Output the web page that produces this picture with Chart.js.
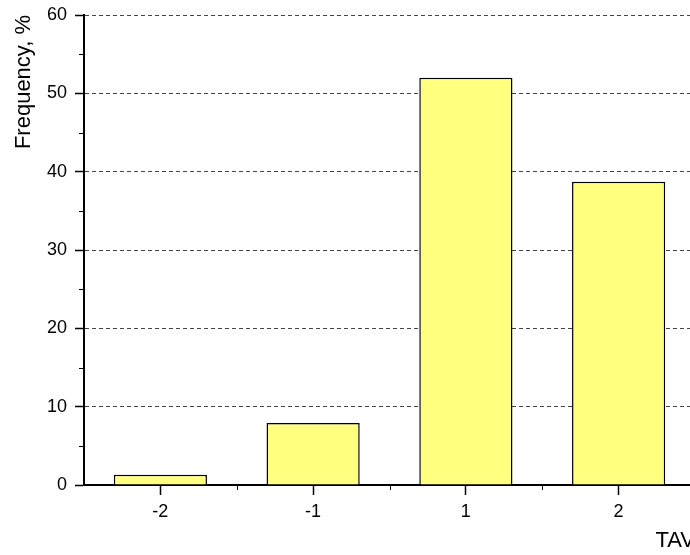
<!DOCTYPE html>
<html>
<head>
<meta charset="utf-8">
<script src="https://cdn.jsdelivr.net/npm/chart.js@4/dist/chart.umd.min.js"></script>
<style>
  html, body { margin: 0; padding: 0; background: #fff; }
  #wrap { width: 690px; height: 555px; overflow: hidden; position: relative; }
  canvas { display: block; }
</style>
</head>
<body>
<div id="wrap"><canvas id="c" width="720" height="555"></canvas></div>
<script>
// TAV classes and the share of cases in each
const categories = ['-2', '-1', '1', '2'];
const frequency = [1.3, 7.9, 52.0, 38.7];
const yTicks = [0, 10, 20, 30, 40, 50, 60];
const yMinorTicks = [5, 15, 25, 35, 45, 55];
const xMinorTicks = [0.5, 1.5, 2.5, 3.5];

const FONT = 'Liberation Sans, Arial, Helvetica, sans-serif';

// short minor tick marks on both axes
const minorTicks = {
  id: 'minorTicks',
  afterDraw(chart) {
    const { ctx, scales: { x, y } } = chart;
    ctx.save();
    ctx.strokeStyle = '#000';
    ctx.lineWidth = 1;
    ctx.beginPath();
    yMinorTicks.forEach(v => {
      const py = Math.round(y.getPixelForValue(v)) + 0.5;
      ctx.moveTo(y.right - 5, py);
      ctx.lineTo(y.right, py);
    });
    xMinorTicks.forEach(v => {
      const px = Math.round(x.getPixelForValue(v)) + 0.5;
      ctx.moveTo(px, x.top);
      ctx.lineTo(px, x.top + 5);
    });
    ctx.stroke();
    ctx.restore();
  }
};

new Chart(document.getElementById('c'), {
  type: 'bar',
  data: {
    labels: categories,
    datasets: [{
      data: frequency,
      backgroundColor: '#FFFF80',
      borderColor: '#000',
      borderWidth: 1.5,
      barPercentage: 0.61,
      categoryPercentage: 1.0
    }]
  },
  options: {
    responsive: false,
    animation: false,
    devicePixelRatio: 1,
    layout: { padding: { top: 15, right: 25, left: 0, bottom: 0 } },
    plugins: { legend: { display: false }, tooltip: { enabled: false } },
    scales: {
      x: {
        offset: true,
        grid: {
          offset: false,
          drawOnChartArea: false,
          drawTicks: true,
          tickLength: 10,
          tickColor: '#000',
          tickWidth: 1.5
        },
        border: { display: true, color: '#000', width: 2 },
        ticks: { color: '#000', font: { family: FONT, size: 18 }, padding: 6, maxRotation: 0 },
        title: {
          display: true,
          text: 'TAV',
          align: 'end',
          color: '#000',
          font: { family: FONT, size: 22 },
          padding: { top: 0, bottom: 1 }
        },
        afterFit(scale) {
          scale.height = 70;
          scale.paddingLeft = 0;
          scale.paddingRight = 0;
        }
      },
      y: {
        min: 0,
        max: 60,
        afterBuildTicks(scale) { scale.ticks = yTicks.map(v => ({ value: v })); },
        grid: {
          color: ctx => (ctx.tick && ctx.tick.value === 0) ? 'rgba(0,0,0,0)' : '#444',
          lineWidth: 1,
          drawTicks: true,
          tickLength: 9,
          tickColor: '#000',
          tickWidth: 1.5
        },
        border: { display: true, color: '#000', width: 2, dash: [4, 3] },
        ticks: { color: '#000', font: { family: FONT, size: 18 }, padding: 8 },
        title: {
          display: true,
          text: 'Frequency, %',
          align: 'end',
          color: '#000',
          font: { family: FONT, size: 22 },
          padding: { top: 11, bottom: 0 }
        },
        afterFit(scale) {
          scale.width = 84;
          scale.paddingTop = 0;
          scale.paddingBottom = 0;
        }
      }
    }
  },
  plugins: [minorTicks]
});
</script>
</body>
</html>
